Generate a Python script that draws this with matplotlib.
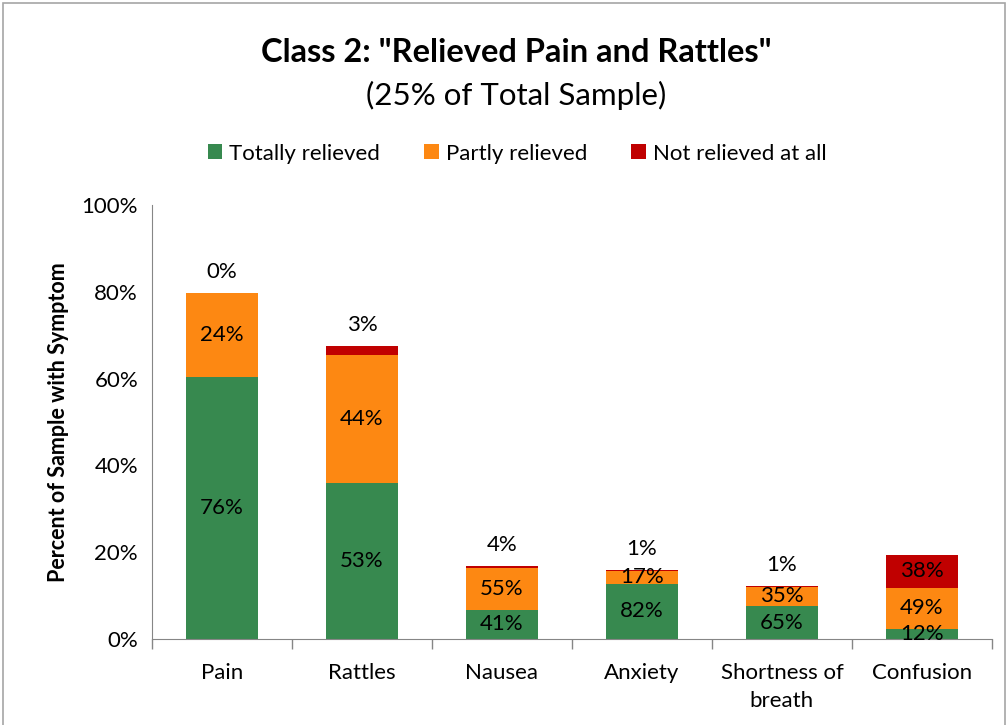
import matplotlib
matplotlib.use("Agg")
import matplotlib.pyplot as plt
from matplotlib.patches import Rectangle
import numpy as np

plt.rcParams['font.family'] = ['Lato', 'DejaVu Sans']

symptoms = ["Pain", "Rattles", "Nausea", "Anxiety", "Shortness of\nbreath", "Confusion"]

# segment heights, percent of whole sample
totally = [60.4, 35.9, 6.7, 12.7, 7.6, 2.3]
partly = [19.3, 29.5, 9.7, 3.0, 4.4, 9.5]
not_at_all = [0.0, 2.1, 0.5, 0.2, 0.2, 7.6]

# labels, share within each symptom
totally_lbl = ["76%", "53%", "41%", "82%", "65%", "12%"]
partly_lbl = ["24%", "44%", "55%", "17%", "35%", "49%"]
not_lbl = ["0%", "3%", "4%", "1%", "1%", "38%"]

GREEN = "#37894F"
ORANGE = "#FD8812"
RED = "#C00000"

fig = plt.figure(figsize=(10.08, 7.25), dpi=100)
ax = fig.add_axes([0.1508, 0.1186, 0.8332, 0.5986])

x = np.arange(len(symptoms))
w = 0.51
bottom2 = np.array(totally)
bottom3 = bottom2 + np.array(partly)
b1 = ax.bar(x, totally, w, color=GREEN, label="Totally relieved")
b2 = ax.bar(x, partly, w, bottom=bottom2, color=ORANGE, label="Partly relieved")
b3 = ax.bar(x, not_at_all, w, bottom=bottom3, color=RED, label="Not relieved at all")

for i in range(len(symptoms)):
    ax.text(x[i], totally[i] / 2, totally_lbl[i], ha="center", va="center", fontsize=16)
    ax.text(x[i], bottom2[i] + partly[i] / 2, partly_lbl[i], ha="center", va="center", fontsize=16)
    if not_at_all[i] > 5:  # big enough to sit inside the red segment
        ax.text(x[i], bottom3[i] + not_at_all[i] / 2, not_lbl[i], ha="center", va="center", fontsize=16)
    else:
        top = bottom3[i] + not_at_all[i]
        ax.annotate(not_lbl[i], (x[i], top), xytext=(0, 15), textcoords="offset points",
                    ha="center", va="center", fontsize=16)

ax.set_xlim(-0.5, len(symptoms) - 0.5)
ax.set_ylim(0, 100)
ax.set_yticks(np.arange(0, 101, 20))
ax.set_yticklabels([f"{v}%" for v in range(0, 101, 20)], fontsize=16)
ax.tick_params(axis="y", length=0, pad=10)

ax.set_xticks(x)
ax.set_xticklabels(symptoms, fontsize=16, linespacing=1.55)
ax.tick_params(axis="x", length=0, pad=17)
ax.set_xticks(np.arange(-0.5, len(symptoms), 1), minor=True)
ax.tick_params(axis="x", which="minor", length=7, color="#868686", width=1)

for side in ["top", "right"]:
    ax.spines[side].set_visible(False)
for side in ["left", "bottom"]:
    ax.spines[side].set_color("#868686")

ax.set_ylabel("Percent of Sample with Symptom", fontsize=15.5, fontweight="bold", labelpad=9)

fig.text(0.512, 0.927, 'Class 2: "Relieved Pain and Rattles"', ha="center", va="center",
         fontsize=23.5, fontweight="bold")
fig.text(0.512, 0.868, "(25% of Total Sample)", ha="center", va="center", fontsize=22.5)

fig.legend(handles=[b1, b2, b3], loc="center", bbox_to_anchor=(0.513, 0.788), ncol=3,
           frameon=False, fontsize=16, handlelength=0.65, handleheight=0.65,
           handletextpad=0.3, columnspacing=2.0)

fig.patches.append(Rectangle((0.003, -0.01), 0.994, 1.006, transform=fig.transFigure,
                             fill=False, edgecolor="#A6A6A6", linewidth=1.2))

fig.savefig("out.png", dpi=100)
